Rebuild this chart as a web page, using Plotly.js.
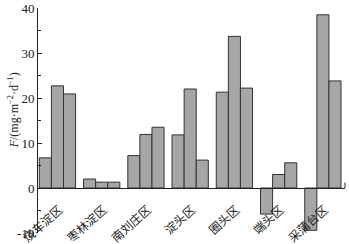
<!DOCTYPE html>
<html>
<head>
<meta charset="utf-8">
<script src="https://cdn.plot.ly/plotly-3.0.1.min.js"></script>
<style>html,body{margin:0;padding:0;background:#fff;}#chart{width:349px;height:244px;}</style>
</head>
<body>
<div id="chart"></div>
<script>
const sites = ['烧车淀区','枣林淀区','南刘庄区','淀头区','圈头区','端头区','采蒲台区'];
const series1 = [6.7, 2.0, 7.2, 11.8, 21.3, -5.8, -9.4];
const series2 = [22.7, 1.3, 11.9, 22.0, 33.7, 3.0, 38.5];
const series3 = [20.9, 1.3, 13.5, 6.2, 22.2, 5.6, 23.8];
const yTicks = [-10, 0, 10, 20, 30, 40];

const FONT = '"Liberation Serif", "Times New Roman", "Noto Sans CJK SC", serif';
const barStyle = {color: '#a6a6a6', line: {color: '#333333', width: 1}};
const traces = [series1, series2, series3].map(v => ({
  type: 'bar', x: sites, y: v, marker: barStyle, showlegend: false, hoverinfo: 'none'
}));

const layout = {
  width: 349, height: 244,
  margin: {l: 38, r: 4, t: 8, b: 11, pad: 0},
  paper_bgcolor: '#fff', plot_bgcolor: '#fff',
  font: {family: FONT, size: 12, color: '#222'},
  barmode: 'group', bargap: 0.18, bargroupgap: 0,
  xaxis: {
    type: 'category', range: [-0.44, 6.5],
    anchor: 'free', position: 0.2,
    showline: true, linecolor: '#222', linewidth: 1,
    ticks: '', showgrid: false, zeroline: false,
    tickangle: -42, ticklabelstandoff: 9, ticklabelshift: 2,
    tickfont: {family: '"Noto Sans CJK SC", sans-serif', size: 12, color: '#222'}
  },
  yaxis: {
    range: [-10, 40], tickvals: yTicks, ticktext: yTicks.map(String),
    showline: true, linecolor: '#222', linewidth: 1,
    ticks: 'inside', ticklen: 4, tickcolor: '#222',
    minor: {dtick: 5, tick0: 0, ticks: 'inside', ticklen: 3, tickcolor: '#222'},
    showgrid: false, zeroline: false,
    tickfont: {family: FONT, size: 13, color: '#222'}
  },
  shapes: [{type: 'line', xref: 'paper', yref: 'y', x0: 1, x1: 1, y0: 0, y1: 1.2,
            line: {color: '#222', width: 1}}],
  annotations: [{
    xref: 'paper', yref: 'paper', x: -0.08, y: 0.547,
    xanchor: 'center', yanchor: 'middle', textangle: -90, showarrow: false,
    text: '<i>F</i>/(mg·m<sup>−2</sup>·d<sup>−1</sup>)',
    font: {family: FONT, size: 12, color: '#222'}
  }]
};

Plotly.newPlot('chart', traces, layout, {staticPlot: true, displayModeBar: false});
</script>
</body>
</html>
